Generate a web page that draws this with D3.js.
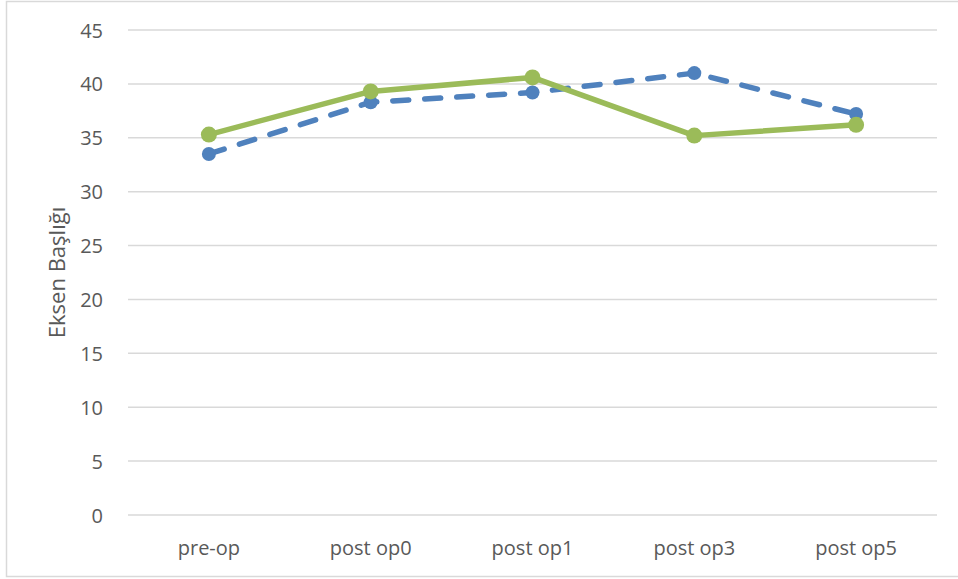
<!DOCTYPE html>
<html>
<head>
<meta charset="utf-8">
<script src="https://cdn.jsdelivr.net/npm/d3@7"></script>
<style>
  html, body { margin: 0; padding: 0; background: #fff; }
  svg { display: block; font-family: "Open Sans", "Liberation Sans", sans-serif; }
</style>
</head>
<body>
<svg id="chart" width="958" height="579"></svg>
<script>
// Time points and the two measured series
const categories = ["pre-op", "post op0", "post op1", "post op3", "post op5"];
const seriesBlue = [33.5, 38.3, 39.2, 41.0, 37.2];
const seriesGreen = [35.3, 39.3, 40.6, 35.2, 36.2];
const yTicks = [0, 5, 10, 15, 20, 25, 30, 35, 40, 45];
const yTitle = "Eksen Başlığı";

const svg = d3.select("#chart");
const W = 958, H = 579;
const plot = { left: 128, right: 937, top: 30, bottom: 515 };

// Outer chart-area frame
svg.append("path")
  .attr("d", `M${W + 2},1.5 H6.5 V576.5 H${W + 2}`)
  .attr("fill", "none")
  .attr("stroke", "#d9d9d9")
  .attr("stroke-width", 1.5);

const x = d3.scaleBand().domain(categories).range([plot.left, plot.right]);
const y = d3.scaleLinear().domain([0, 45]).range([plot.bottom, plot.top]);

// Horizontal gridlines
svg.append("g")
  .selectAll("line")
  .data(yTicks)
  .join("line")
  .attr("x1", plot.left).attr("x2", plot.right)
  .attr("y1", d => y(d)).attr("y2", d => y(d))
  .attr("stroke", "#d9d9d9")
  .attr("stroke-width", 1.5);

// Y axis labels
const yAxis = d3.axisLeft(y).tickValues(yTicks).tickSize(0).tickPadding(0);
const gy = svg.append("g").attr("transform", "translate(103,0)").call(yAxis);
gy.select(".domain").remove();
gy.selectAll("text")
  .attr("fill", "#595959")
  .style("font-size", "20px")
  .style("font-family", "'Open Sans', sans-serif")
  .attr("dy", "0.35em");

// X axis labels
const xAxis = d3.axisBottom(x).tickSize(0).tickPadding(0);
const gx = svg.append("g").attr("transform", `translate(0,${plot.bottom})`).call(xAxis);
gx.select(".domain").remove();
gx.selectAll("text")
  .attr("fill", "#595959")
  .style("font-size", "20px")
  .style("font-family", "'Open Sans', sans-serif")
  .attr("y", 33)
  .attr("dy", "0.35em");

// Y axis title
svg.append("text")
  .attr("transform", `translate(57,${(plot.top + plot.bottom) / 2}) rotate(-90)`)
  .attr("text-anchor", "middle")
  .attr("dy", "0.35em")
  .attr("fill", "#595959")
  .style("font-size", "22px")
  .text(yTitle);

const cx = c => x(c) + x.bandwidth() / 2;
const line = d3.line().x(d => cx(d.c)).y(d => y(d.v));

function drawSeries(values, color, opts) {
  const pts = categories.map((c, i) => ({ c, v: values[i] }));
  const g = svg.append("g");
  g.append("path")
    .datum(pts)
    .attr("d", line)
    .attr("fill", "none")
    .attr("stroke", color)
    .attr("stroke-width", opts.width)
    .attr("stroke-linecap", "round")
    .attr("stroke-linejoin", "round")
    .attr("stroke-dasharray", opts.dash || null);
  g.selectAll("circle")
    .data(pts)
    .join("circle")
    .attr("cx", d => cx(d.c))
    .attr("cy", d => y(d.v))
    .attr("r", opts.r)
    .attr("fill", color);
}

drawSeries(seriesBlue, "#4f81bd", { width: 5.5, dash: "16 16", r: 7 });
drawSeries(seriesGreen, "#9bbb59", { width: 5.5, r: 8 });
</script>
</body>
</html>
